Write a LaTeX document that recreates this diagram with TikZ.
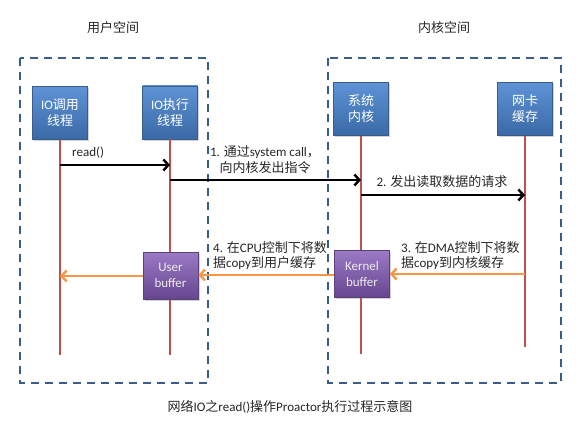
\documentclass[tikz,border=0pt]{standalone}
\usepackage{fontspec}
\setmainfont{Carlito}
\newfontfamily\cjk{Noto Sans CJK SC}
\usetikzlibrary{arrows.meta,shadows}
\definecolor{boxblueT}{HTML}{5E93D6}
\definecolor{boxblueB}{HTML}{3A69A6}
\definecolor{boxedge}{HTML}{385D8A}
\definecolor{purT}{HTML}{9A7AC4}
\definecolor{purB}{HTML}{66468F}
\definecolor{puredge}{HTML}{5C4077}
\definecolor{life}{HTML}{C0504D}
\definecolor{orng}{HTML}{F79646}
\definecolor{dashc}{HTML}{385D8A}
\definecolor{txt}{HTML}{262626}
\tikzset{
  actor/.style={draw=boxedge, line width=0.8pt, top color=boxblueT, bottom color=boxblueB,
    minimum width=55pt, minimum height=53pt, inner sep=0pt, align=center, text=white,
    font=\fontsize{13}{16}\selectfont, drop shadow={opacity=0.35, shadow xshift=1.5pt, shadow yshift=-1.5pt}},
  bufbox/.style={draw=puredge, line width=0.8pt, top color=purT, bottom color=purB,
    minimum width=55pt, minimum height=47pt, inner sep=0pt, align=center, text=white!92!black,
    font=\fontsize{13}{16}\selectfont, drop shadow={opacity=0.35, shadow xshift=1.5pt, shadow yshift=-1.5pt}},
  lifeline/.style={draw=life, line width=2.4pt},
  msg/.style={draw=black, line width=2.4pt, -{Straight Barb[length=5pt,width=11pt,line width=2.4pt]}},
  omsg/.style={draw=orng, line width=2.4pt, -{Straight Barb[length=5pt,width=11pt,line width=2.4pt]}},
  space/.style={draw=dashc, line width=2.4pt, dash pattern=on 8pt off 6pt},
  lbl/.style={text=txt, font=\fontsize{13}{15.5}\selectfont, inner sep=0pt},
}
\begin{document}
\begin{tikzpicture}[x=1pt,y=-1pt]
\useasboundingbox (0,0) rectangle (587,428);
% spaces
\draw[space] (20,58) rectangle (208,383);
\draw[space] (328,58) rectangle (561,383);
\node[lbl] (t1) at (113,28) {\cjk 用户空间};
\node[lbl] (t2) at (444,28) {\cjk 内核空间};
% lifeline actors
\node[actor] (a1) at (60,113) {IO{\cjk 调用}\\{\cjk 线程}};
\node[actor] (a2) at (170,112.5) {IO{\cjk 执行}\\{\cjk 线程}};
\node[actor] (a3) at (361,109) {{\cjk 系统}\\{\cjk 内核}};
\node[actor] (a4) at (525,109) {{\cjk 网卡}\\{\cjk 缓存}};
\coordinate (e1) at (60,355);
\coordinate (e2) at (170,355);
\coordinate (e3) at (361,354);
\coordinate (e4) at (525,347);
\draw[lifeline] (a1.south) -- (e1);
\draw[lifeline] (a2.south) -- (e2);
\draw[lifeline] (a3.south) -- (e3);
\draw[lifeline] (a4.south) -- (e4);
% buffers
\node[bufbox] (ub) at (170.5,275.5) {User\\buffer};
\node[bufbox] (kb) at (362,274) {Kernel\\buffer};
% messages
\draw[msg] (a1.south |- 0,165) -- (a2.south |- 0,165);
\node[lbl, anchor=south west] (r) at (72,159) {read()};
\draw[msg] (a2.south |- 0,180) -- (a3.south |- 0,180);
\node[lbl, align=center] (m1) at (265,159.5) {1. {\cjk 通过}system call{\cjk ，}\\{\cjk 向内核发出指令}};
\draw[msg] (a3.south |- 0,195) -- (a4.south |- 0,195);
\node[lbl] (m2) at (442,182) {2. {\cjk 发出读取数据的请求}};
\draw[omsg] (a4.south |- 0,274) -- (kb.east |- 0,274);
\node[lbl, align=left, anchor=west] (m3) at (401,255.5) {3. {\cjk 在}DMA{\cjk 控制下将数}\\{\cjk 据}copy{\cjk 到内核缓存}};
\draw[omsg] (kb.west |- 0,275) -- (ub.east |- 0,275);
\node[lbl, align=left, anchor=west] (m4) at (213,255.5) {4. {\cjk 在}CPU{\cjk 控制下将数}\\{\cjk 据}copy{\cjk 到用户缓存}};
\draw[omsg] (ub.west |- 0,276) -- (a1.south |- 0,276);
% caption
\node[lbl] (cap) at (290,407) {{\cjk 网络}IO{\cjk 之}read(){\cjk 操作}Proactor{\cjk 执行过程示意图}};
\end{tikzpicture}
\end{document}
